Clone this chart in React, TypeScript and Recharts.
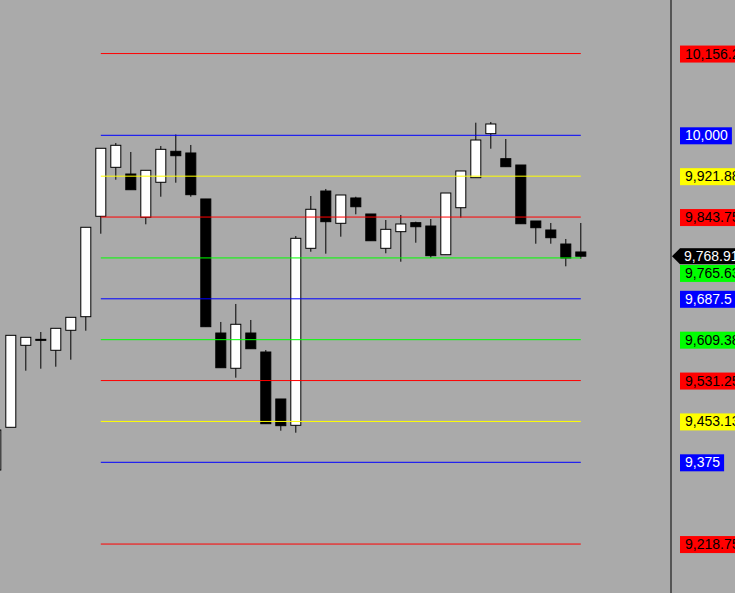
import React from "react";
import { ComposedChart, Bar, XAxis, YAxis, ReferenceLine } from "recharts";

// candle values (index = bar number)
const opens = [9360.3, 9441.9, 9598.6, 9610, 9589.1, 9627.3, 9653.3, 9845.2, 9938.8, 9926, 9843.3, 9910.2, 9969.4, 9966.2, 9878.3, 9622.1, 9554.7, 9622.1, 9585.8, 9496, 9445.7, 9784, 9893.5, 9831.8, 9880.2, 9849.6, 9784, 9815.8, 9833, 9826.6, 9771.8, 9861.6, 9919, 10003.1, 9955.3, 9943.2, 9836.2, 9819, 9792.2, 9777];
const highs = [9436.7, 9617.7, 9613.9, 9624, 9631.1, 9652.1, 9824.2, 9975.2, 9985.3, 9968.1, 9933.1, 9979.5, 10001.5, 9981.5, 9878.3, 9643.2, 9677.6, 9647, 9589.6, 9496, 9807.5, 9884, 9897.4, 9885.9, 9882.6, 9849.6, 9838.1, 9847.7, 9834.9, 9840, 9889.7, 9931.8, 10024.1, 10025.4, 9992.9, 9943.2, 9836.2, 9832.4, 9801.8, 9832.4];
const lows = [9360.3, 9441.9, 9550.1, 9553.9, 9557.7, 9571.1, 9626.5, 9811.9, 9915.1, 9896, 9829.9, 9882.6, 9909.4, 9882.6, 9634.2, 9555.8, 9536.7, 9592.1, 9448.8, 9435.4, 9431.6, 9777.5, 9773.7, 9806.2, 9849, 9798.5, 9774.5, 9758.4, 9794.7, 9766.1, 9771.8, 9842.5, 9919, 9974.4, 9940, 9831, 9792.8, 9792.8, 9749.6, 9764.1];
const closes = [9436.7, 9617.7, 9613.9, 9608.5, 9631.1, 9652.1, 9824.2, 9975.2, 9980.9, 9896, 9933.1, 9973.2, 9961, 9886.5, 9634.2, 9555.8, 9638.8, 9592.1, 9448.8, 9445, 9803.1, 9858.6, 9834.9, 9885.9, 9863.5, 9798.5, 9820.3, 9830.5, 9825.3, 9769.9, 9889.7, 9931.8, 9991, 10021.6, 9940, 9831, 9823.4, 9804.3, 9765.5, 9768.91];

// horizontal levels and their right-hand labels
const levels = [10156.25, 10000, 9921.875, 9843.75, 9765.625, 9687.5, 9609.375, 9531.25, 9453.125, 9375, 9218.75];
const levelLabels = ["10,156.25", "10,000", "9,921.88", "9,843.75", "9,765.63", "9,687.5", "9,609.38", "9,531.25", "9,453.13", "9,375", "9,218.75"];
const levelColors = ["#ff0000", "#0000ff", "#ffff00", "#ff0000", "#00ff00", "#0000ff", "#00ff00", "#ff0000", "#ffff00", "#0000ff", "#ff0000"];
const levelStart = 7;
const levelEnd = 39;

const lastPrice = 9768.91;
const lastLabel = "9,768.91";

const data = opens.map((o, i) => ({
  i,
  open: o,
  high: highs[i],
  low: lows[i],
  close: closes[i],
}));

function textWidth(s: string) {
  let w = 0;
  for (const ch of s) w += ch === "," || ch === "." ? 3.9 : 7.8;
  return w;
}

function Candle(props: any) {
  const { x, y, width, height, payload } = props;
  const { open, close, high, low } = payload;
  const top = Math.min(y, y + height);
  const h = Math.abs(height);
  const py = (v: number) => (high === low ? top : top + ((high - v) / (high - low)) * h);
  const cx = x + width / 2;
  const up = close >= open;
  const bTop = py(Math.max(open, close));
  const bBot = py(Math.min(open, close));
  return (
    <g>
      <line x1={cx} x2={cx} y1={py(high)} y2={py(low)} stroke="#000" strokeWidth={1} />
      <rect
        x={cx - 5}
        y={bTop}
        width={10}
        height={Math.max(bBot - bTop, 1)}
        fill={up ? "#fff" : "#000"}
        stroke="#000"
        strokeWidth={1}
      />
    </g>
  );
}

function PriceTick(props: any) {
  const { y, payload } = props;
  const v = payload.value;
  const font = { fontFamily: "'Liberation Sans', Arial, sans-serif", fontSize: 14 };
  if (v === lastPrice) {
    const w = textWidth(lastLabel) + 9;
    return (
      <g>
        <polygon points={`672,${y} 680,${y - 8} 680,${y + 8}`} fill="#000" />
        <rect x={680} y={y - 8} width={w} height={16} fill="#000" />
        <text x={684} y={y + 5} fill="#fff" {...font}>{lastLabel}</text>
      </g>
    );
  }
  const idx = levels.indexOf(v);
  if (idx < 0) return null;
  const off = v === 9765.625 ? 15 : 0;
  const label = levelLabels[idx];
  const color = levelColors[idx];
  const txt = color === "#0000ff" ? "#fff" : "#000";
  const w = textWidth(label) + 9;
  return (
    <g>
      <rect x={680} y={y - 8 + off} width={w} height={17} fill={color} />
      <text x={685} y={y + 5 + off} fill={txt} {...font}>{label}</text>
    </g>
  );
}

export default function App() {
  return (
    <div style={{ position: "absolute", left: 0, top: 0, width: 735, height: 593, background: "#aaaaaa" }}>
      <ComposedChart width={735} height={593} data={data} margin={{ top: 0, right: 0, bottom: 0, left: 0 }}>
        <XAxis dataKey="i" type="number" domain={[0.28, 45.013]} allowDataOverflow hide />
        <YAxis
          orientation="right"
          width={64}
          domain={[9125.2, 10258.6]}
          allowDataOverflow
          ticks={[...levels, lastPrice]}
          interval={0}
          tickLine={false}
          axisLine={{ stroke: "#000", strokeWidth: 1 }}
          tick={<PriceTick />}
        />
        {levels.map((lv, k) => (
          <ReferenceLine
            key={lv}
            segment={[{ x: levelStart, y: lv }, { x: levelEnd, y: lv }]}
            stroke={levelColors[k]}
            strokeWidth={1}
          />
        ))}
        <Bar dataKey={(d: any) => [d.low, d.high]} barSize={11} shape={<Candle />} isAnimationActive={false} />
      </ComposedChart>
    </div>
  );
}
